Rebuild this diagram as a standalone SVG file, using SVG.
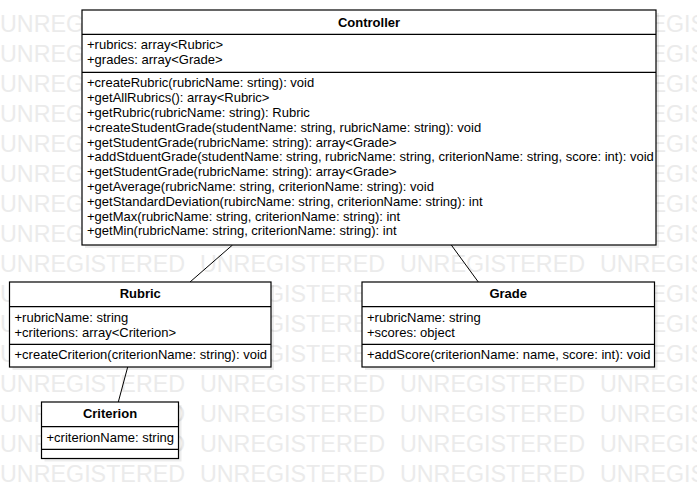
<svg xmlns="http://www.w3.org/2000/svg" width="697" height="499" viewBox="0 0 697 499">
<style>
text{font-family:"Liberation Sans",Arial,sans-serif;fill:#000}
.wm{font-size:23.3px;fill:#ebebeb;word-spacing:8.4px}
.t{font-size:13px;font-weight:bold;text-anchor:middle}
.m{font-size:13px}
.box{fill:#fff;stroke:#000;stroke-width:1.2}
.sh{fill:#000;fill-opacity:0.07}
.div{stroke:#000;stroke-width:1.2;fill:none}
.edge{stroke:#000;stroke-width:1;fill:none}
</style>
<rect width="697" height="499" fill="#fff"/>
<g id="watermark">
<text class="wm" x="0" y="31.7">UNREGISTERED UNREGISTERED UNREGISTERED UNREGISTERED</text>
<text class="wm" x="0" y="61.7">UNREGISTERED UNREGISTERED UNREGISTERED UNREGISTERED</text>
<text class="wm" x="0" y="91.7">UNREGISTERED UNREGISTERED UNREGISTERED UNREGISTERED</text>
<text class="wm" x="0" y="121.7">UNREGISTERED UNREGISTERED UNREGISTERED UNREGISTERED</text>
<text class="wm" x="0" y="151.7">UNREGISTERED UNREGISTERED UNREGISTERED UNREGISTERED</text>
<text class="wm" x="0" y="181.7">UNREGISTERED UNREGISTERED UNREGISTERED UNREGISTERED</text>
<text class="wm" x="0" y="211.7">UNREGISTERED UNREGISTERED UNREGISTERED UNREGISTERED</text>
<text class="wm" x="0" y="241.7">UNREGISTERED UNREGISTERED UNREGISTERED UNREGISTERED</text>
<text class="wm" x="0" y="271.7">UNREGISTERED UNREGISTERED UNREGISTERED UNREGISTERED</text>
<text class="wm" x="0" y="301.7">UNREGISTERED UNREGISTERED UNREGISTERED UNREGISTERED</text>
<text class="wm" x="0" y="331.7">UNREGISTERED UNREGISTERED UNREGISTERED UNREGISTERED</text>
<text class="wm" x="0" y="361.7">UNREGISTERED UNREGISTERED UNREGISTERED UNREGISTERED</text>
<text class="wm" x="0" y="391.7">UNREGISTERED UNREGISTERED UNREGISTERED UNREGISTERED</text>
<text class="wm" x="0" y="421.7">UNREGISTERED UNREGISTERED UNREGISTERED UNREGISTERED</text>
<text class="wm" x="0" y="451.7">UNREGISTERED UNREGISTERED UNREGISTERED UNREGISTERED</text>
<text class="wm" x="0" y="481.7">UNREGISTERED UNREGISTERED UNREGISTERED UNREGISTERED</text>
</g>
<g id="connectors">
<line class="edge" x1="232.5" y1="245" x2="190" y2="282"/>
<line class="edge" x1="451.3" y1="245" x2="478.3" y2="282"/>
<line class="edge" x1="127.7" y1="367" x2="118.3" y2="402"/>
</g>
<g id="controller">
<rect class="sh" x="85" y="13" width="574" height="235"/>
<rect class="box" x="82" y="10" width="574" height="235"/>
<line class="div" x1="82" y1="34.4" x2="656" y2="34.4"/>
<line class="div" x1="82" y1="72.4" x2="656" y2="72.4"/>
<text class="t" x="369" y="26.5">Controller</text>
<text class="m" x="87" y="49.3">+rubrics: array&lt;Rubric&gt;</text>
<text class="m" x="87" y="64.1">+grades: array&lt;Grade&gt;</text>
<text class="m" x="87" y="87.3">+createRubric(rubricName: srting): void</text>
<text class="m" x="87" y="102.1">+getAllRubrics(): array&lt;Rubric&gt;</text>
<text class="m" x="87" y="116.9">+getRubric(rubricName: string): Rubric</text>
<text class="m" x="87" y="131.7">+createStudentGrade(studentName: string, rubricName: string): void</text>
<text class="m" x="87" y="146.5">+getStudentGrade(rubricName: string): array&lt;Grade&gt;</text>
<text class="m" x="87" y="161.3">+addStduentGrade(studentName: string, rubricName: string, criterionName: string, score: int): void</text>
<text class="m" x="87" y="176.1">+getStudentGrade(rubricName: string): array&lt;Grade&gt;</text>
<text class="m" x="87" y="190.9">+getAverage(rubricName: string, criterionName: string): void</text>
<text class="m" x="87" y="205.7">+getStandardDeviation(rubircName: string, criterionName: string): int</text>
<text class="m" x="87" y="220.5">+getMax(rubricName: string, criterionName: string): int</text>
<text class="m" x="87" y="235.3">+getMin(rubricName: string, criterionName: string): int</text>
</g>
<g id="rubric">
<rect class="sh" x="12.5" y="285" width="261.5" height="85"/>
<rect class="box" x="9.5" y="282" width="261.5" height="85"/>
<line class="div" x1="9.5" y1="306.7" x2="271" y2="306.7"/>
<line class="div" x1="9.5" y1="344.3" x2="271" y2="344.3"/>
<text class="t" x="140.25" y="298.3">Rubric</text>
<text class="m" x="14.5" y="322">+rubricName: string</text>
<text class="m" x="14.5" y="336.8">+criterions: array&lt;Criterion&gt;</text>
<text class="m" x="14.5" y="359.3">+createCriterion(criterionName: string): void</text>
</g>
<g id="criterion">
<rect class="sh" x="44.5" y="405" width="137" height="56.5"/>
<rect class="box" x="41.5" y="402" width="137" height="56.5"/>
<line class="div" x1="41.5" y1="426.7" x2="178.5" y2="426.7"/>
<line class="div" x1="41.5" y1="449.3" x2="178.5" y2="449.3"/>
<text class="t" x="110" y="418.3">Criterion</text>
<text class="m" x="46.5" y="442">+criterionName: string</text>
</g>
<g id="grade">
<rect class="sh" x="365" y="285" width="292.5" height="85"/>
<rect class="box" x="362" y="282" width="292.5" height="85"/>
<line class="div" x1="362" y1="306.7" x2="654.5" y2="306.7"/>
<line class="div" x1="362" y1="344.3" x2="654.5" y2="344.3"/>
<text class="t" x="508.25" y="298.3">Grade</text>
<text class="m" x="367" y="322">+rubricName: string</text>
<text class="m" x="367" y="336.8">+scores: object</text>
<text class="m" x="367" y="359.3">+addScore(criterionName: name, score: int): void</text>
</g>
</svg>
